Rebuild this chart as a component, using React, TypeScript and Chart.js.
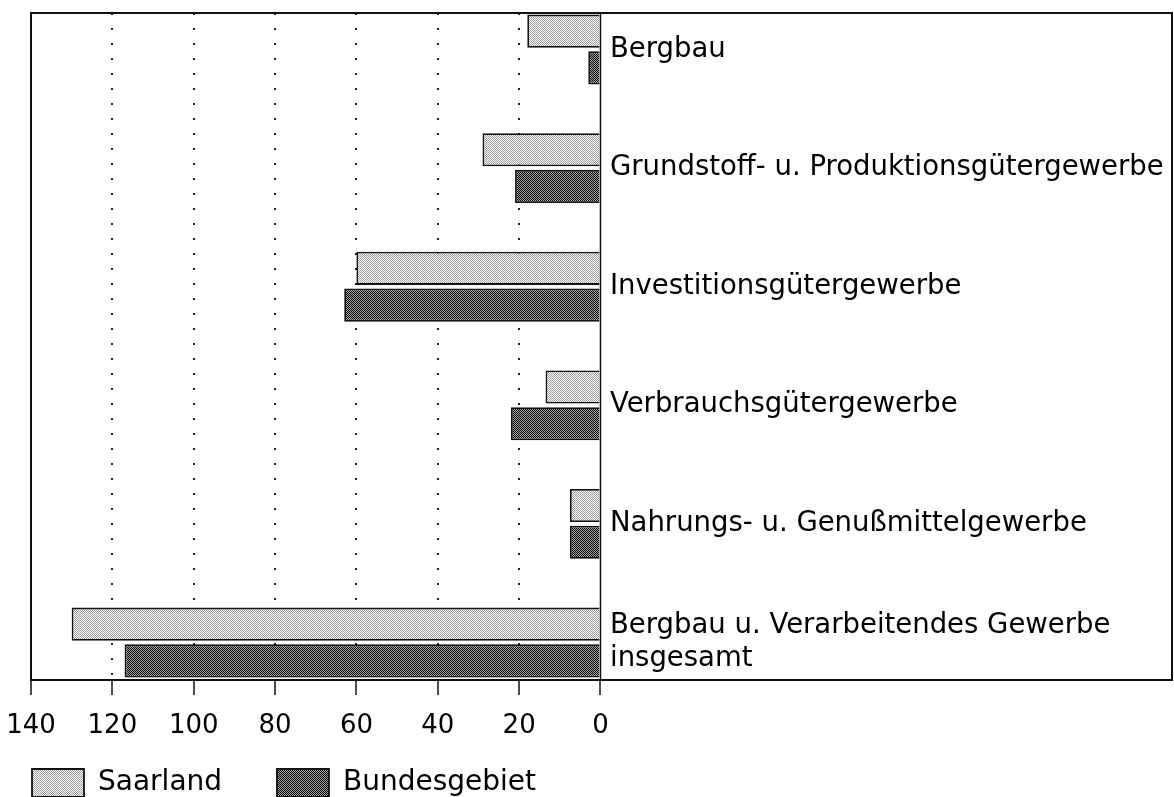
import React, { useEffect, useRef } from 'react';
import { Chart, registerables } from 'chart.js';

Chart.register(...registerables);

const categories: (string | string[])[] = [
  'Bergbau',
  'Grundstoff- u. Produktionsgütergewerbe',
  'Investitionsgütergewerbe',
  'Verbrauchsgütergewerbe',
  'Nahrungs- u. Genußmittelgewerbe',
  ['Bergbau u. Verarbeitendes Gewerbe', 'insgesamt'],
];
const seriesNames = ['Saarland', 'Bundesgebiet'];
const saarland = [18, 29, 60, 13.5, 7.5, 130];
const bundesgebiet = [3, 21, 63, 22, 7.5, 117];
const xTickValues = [0, 20, 40, 60, 80, 100, 120, 140];

const FONT = 'DejaVu Sans';

function makePattern(base: string, dot: string): CanvasPattern | string {
  const c = document.createElement('canvas');
  c.width = 4;
  c.height = 4;
  const g = c.getContext('2d');
  if (!g) return base;
  g.fillStyle = base;
  g.fillRect(0, 0, 4, 4);
  g.fillStyle = dot;
  for (let y = 0; y < 4; y++) {
    for (let x = 0; x < 4; x++) {
      if ((x + y) % 2 === 0) g.fillRect(x, y, 1, 1);
    }
  }
  return g.createPattern(c, 'repeat') || base;
}

const framePlugin = {
  id: 'frame',
  afterDatasetsDraw(chart: any) {
    const { ctx, chartArea: a, scales } = chart;
    ctx.save();
    ctx.strokeStyle = '#111';
    ctx.lineWidth = 2;
    ctx.strokeRect(a.left, a.top, a.right - a.left, a.bottom - a.top);
    const zx = scales.x.getPixelForValue(0);
    ctx.lineWidth = 1.5;
    ctx.beginPath();
    ctx.moveTo(zx, a.top);
    ctx.lineTo(zx, a.bottom);
    ctx.stroke();
    ctx.restore();
  },
};

export default function App() {
  const ref = useRef<HTMLCanvasElement | null>(null);

  useEffect(() => {
    if (!ref.current) return;
    Chart.defaults.font.family = FONT;
    const light = makePattern('#ffffff', '#9c9c9c');
    const dark = makePattern('#a8a8a8', '#000000');
    const chart = new Chart(ref.current, {
      type: 'bar',
      data: {
        datasets: [
          {
            label: seriesNames[0],
            data: saarland.map((v, i) => ({ x: v, y: i })),
            backgroundColor: light as any,
            borderColor: '#111',
            borderWidth: 1.8,
          },
          {
            label: seriesNames[1],
            data: bundesgebiet.map((v, i) => ({ x: v, y: i })),
            backgroundColor: dark as any,
            borderColor: '#111',
            borderWidth: 1.8,
          },
        ],
      },
      options: {
        indexAxis: 'y',
        animation: false,
        responsive: true,
        maintainAspectRatio: false,
        layout: { padding: { top: 13, left: 0, right: 2, bottom: 0 } },
        datasets: { bar: { categoryPercentage: 0.62, barPercentage: 0.9 } },
        scales: {
          x: {
            type: 'linear',
            reverse: true,
            offset: false,
            min: -140.5,
            max: 140,
            afterBuildTicks: (s: any) => {
              s.ticks = xTickValues.map((v) => ({ value: v }));
            },
            afterFit: (s: any) => {
              s.height = 57;
              s.paddingLeft = 0;
              s.paddingRight = 0;
            },
            ticks: {
              color: '#000',
              font: { family: FONT, size: 26 },
              padding: 16,
              maxRotation: 0,
              autoSkip: false,
            },
            grid: {
              color: (c: any) =>
                c.tick && (c.tick.value === 0 || c.tick.value === 140) ? 'rgba(0,0,0,0)' : '#222',
              lineWidth: 2,
              tickLength: 15,
              tickColor: '#111',
              tickWidth: 1.5,
              tickBorderDash: [],
            },
            border: { display: false, dash: [2, 13] },
          },
          y: {
            type: 'linear',
            reverse: true,
            offset: false,
            min: -0.308,
            max: 5.316,
            position: 'left',
            afterBuildTicks: (s: any) => {
              s.ticks = categories.map((_, i) => ({ value: i }));
            },
            afterFit: (s: any) => {
              s.width = 31;
              s.paddingTop = 0;
              s.paddingBottom = 0;
            },
            ticks: {
              mirror: true,
              padding: 579,
              color: '#000',
              font: { family: FONT, size: 27.5 },
              autoSkip: false,
              callback: (v: any) => categories[v as number],
            },
            grid: { display: false },
            border: { display: false },
          },
        },
        plugins: {
          tooltip: { enabled: false },
          legend: {
            position: 'bottom',
            align: 'start',
            labels: {
              boxWidth: 52,
              boxHeight: 28,
              padding: 32,
              color: '#000',
              font: { family: FONT, size: 28 },
              generateLabels: (ch: any) => {
                const items = (Chart.defaults.plugins.legend.labels as any).generateLabels(ch);
                return items.map((it: any, i: number) =>
                  i === 0 ? { ...it, text: it.text + '\u2002 ' } : it
                );
              },
            },
          },
        },
      },
      plugins: [framePlugin],
    });
    return () => chart.destroy();
  }, []);

  return (
    <div
      style={{
        position: 'absolute',
        left: 0,
        top: 0,
        width: 1174,
        height: 797,
        overflow: 'hidden',
        background: '#fff',
      }}
    >
      <div style={{ position: 'relative', width: 1174, height: 807 }}>
        <canvas ref={ref} />
      </div>
    </div>
  );
}
